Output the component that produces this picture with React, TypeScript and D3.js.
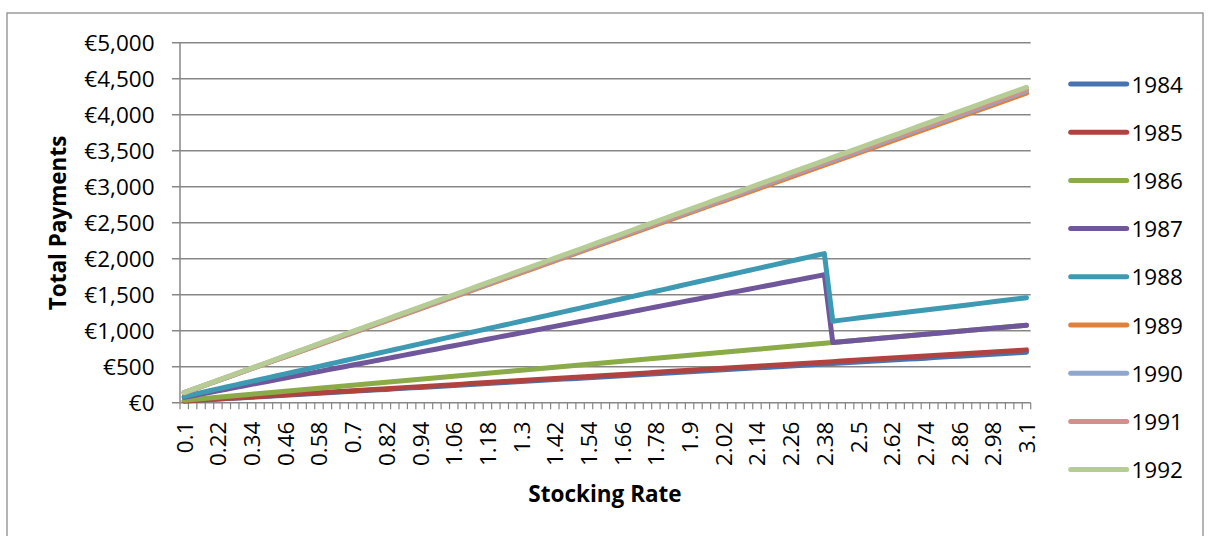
import React from "react";
import * as d3 from "d3";

const categories: string[] = [
  "0.1","0.13","0.16","0.19","0.22","0.25","0.28","0.31","0.34","0.37",
  "0.4","0.43","0.46","0.49","0.52","0.55","0.58","0.61","0.64","0.67",
  "0.7","0.73","0.76","0.79","0.82","0.85","0.88","0.91","0.94","0.97",
  "1","1.03","1.06","1.09","1.12","1.15","1.18","1.21","1.24","1.27",
  "1.3","1.33","1.36","1.39","1.42","1.45","1.48","1.51","1.54","1.57",
  "1.6","1.63","1.66","1.69","1.72","1.75","1.78","1.81","1.84","1.87",
  "1.9","1.93","1.96","1.99","2.02","2.05","2.08","2.11","2.14","2.17",
  "2.2","2.23","2.26","2.29","2.32","2.35","2.38","2.41","2.44","2.47",
  "2.5","2.53","2.56","2.59","2.62","2.65","2.68","2.71","2.74","2.77",
  "2.8","2.83","2.86","2.89","2.92","2.95","2.98","3.01","3.04","3.07",
  "3.1"
];

const seriesNames: string[] = ["1984","1985","1986","1987","1988","1989","1990","1991","1992"];
const seriesColors: string[] = ["#4774b0","#b04340","#8aab48","#70569a","#3e99b2","#e1803b","#8fa6cd","#d38f8e","#b5cc95"];

const yTicks: number[] = [0, 500, 1000, 1500, 2000, 2500, 3000, 3500, 4000, 4500, 5000];

const v1984: number[] = [
  23,29,36,43,50,57,63,70,77,84,90,97,104,111,118,124,131,138,145,151,
  158,165,172,179,185,192,199,206,212,219,226,233,240,246,253,260,267,273,280,287,
  294,301,307,314,321,328,334,341,348,355,362,368,375,382,389,396,402,409,416,423,
  429,436,443,450,457,463,470,477,484,490,497,504,511,518,524,531,538,545,551,558,
  565,572,579,585,592,599,606,612,619,626,633,640,646,653,660,667,673,680,687,694,
  701
];
const v1985: number[] = [
  23.7,30.8,37.9,45.0,52.1,59.2,66.3,73.4,80.5,87.6,94.7,101.8,108.9,116.0,123.1,130.2,137.3,144.4,151.5,158.6,
  165.7,172.8,179.9,187.0,194.1,201.2,208.3,215.4,222.5,229.6,236.7,243.8,250.9,258.0,265.1,272.2,279.3,286.4,293.5,300.6,
  307.7,314.8,321.9,329.0,336.1,343.2,350.3,357.4,364.5,371.6,378.7,385.8,392.9,400.0,407.1,414.2,421.3,428.4,435.5,442.6,
  449.7,456.8,463.9,471.0,478.1,485.2,492.3,499.4,506.5,513.6,520.7,527.8,534.9,542.0,549.1,556.2,563.3,570.4,577.5,584.6,
  591.7,598.8,605.9,613.0,620.1,627.2,634.3,641.4,648.5,655.6,662.7,669.8,676.9,684.0,691.1,698.2,705.3,712.4,719.5,726.6,
  733.7
];
const v1986: number[] = [
  34.7,45.1,55.5,65.9,76.3,86.7,97.1,107.5,117.9,128.3,138.7,149.1,159.5,169.9,180.3,190.7,201.1,211.5,221.9,232.3,
  242.7,253.1,263.5,273.9,284.3,294.7,305.1,315.5,325.9,336.3,346.7,357.1,367.5,377.9,388.3,398.7,409.1,419.5,429.9,440.3,
  450.7,461.1,471.5,481.9,492.3,502.7,513.1,523.5,533.9,544.3,554.7,565.1,575.5,585.9,596.3,606.7,617.1,627.5,637.9,648.3,
  658.7,669.1,679.5,689.9,700.3,710.7,721.1,731.5,741.9,752.3,762.7,773.1,783.5,793.9,804.3,814.7,825.1,835.5,845.9,856.3,
  866.7,877.1,887.5,897.9,908.3,918.7,929.1,939.5,949.9,960.3,970.7,981.1,991.5,1001.9,1012.3,1022.7,1033.1,1043.5,1053.9,1064.3,
  1074.7
];
const v1987: number[] = [
  74.7,97.1,119.5,141.9,164.3,186.7,209.1,231.5,253.9,276.3,298.7,321.1,343.5,365.9,388.3,410.7,433.1,455.5,477.9,500.3,
  522.7,545.1,567.5,589.9,612.3,634.7,657.1,679.5,701.9,724.3,746.7,769.1,791.5,813.9,836.3,858.7,881.1,903.5,925.9,948.3,
  970.7,993.1,1015.5,1037.9,1060.3,1082.7,1105.1,1127.5,1149.9,1172.3,1194.7,1217.1,1239.5,1261.9,1284.3,1306.7,1329.1,1351.5,1373.9,1396.3,
  1418.7,1441.1,1463.5,1485.9,1508.3,1530.7,1553.1,1575.5,1597.9,1620.3,1642.7,1665.1,1687.5,1709.9,1732.3,1754.7,1777.1,835.5,845.9,856.3,
  866.7,877.1,887.5,897.9,908.3,918.7,929.1,939.5,949.9,960.3,970.7,981.1,991.5,1001.9,1012.3,1022.7,1033.1,1043.5,1053.9,1064.3,
  1074.7
];
const v1988: number[] = [
  87.0,113.1,139.2,165.3,191.4,217.5,243.6,269.7,295.8,321.9,348.0,374.1,400.2,426.3,452.4,478.5,504.6,530.7,556.8,582.9,
  609.0,635.1,661.2,687.3,713.4,739.5,765.6,791.7,817.8,843.9,870.0,896.1,922.2,948.3,974.4,1000.5,1026.6,1052.7,1078.8,1104.9,
  1131.0,1157.1,1183.2,1209.3,1235.4,1261.5,1287.6,1313.7,1339.8,1365.9,1392.0,1418.1,1444.2,1470.3,1496.4,1522.5,1548.6,1574.7,1600.8,1626.9,
  1653.0,1679.1,1705.2,1731.3,1757.4,1783.5,1809.6,1835.7,1861.8,1887.9,1914.0,1940.1,1966.2,1992.3,2018.4,2044.5,2070.6,1132.7,1146.8,1160.9,
  1175.0,1189.1,1203.2,1217.3,1231.4,1245.5,1259.6,1273.7,1287.8,1301.9,1316.0,1330.1,1344.2,1358.3,1372.4,1386.5,1400.6,1414.7,1428.8,1442.9,
  1457.0
];
const v1989: number[] = [
  138.7,180.3,221.9,263.5,305.1,346.7,388.3,429.9,471.5,513.1,554.7,596.3,637.9,679.5,721.1,762.7,804.3,845.9,887.5,929.1,
  970.7,1012.3,1053.9,1095.5,1137.1,1178.7,1220.3,1261.9,1303.5,1345.1,1386.7,1428.3,1469.9,1511.5,1553.1,1594.7,1636.3,1677.9,1719.5,1761.1,
  1802.7,1844.3,1885.9,1927.5,1969.1,2010.7,2052.3,2093.9,2135.5,2177.1,2218.7,2260.3,2301.9,2343.5,2385.1,2426.7,2468.3,2509.9,2551.5,2593.1,
  2634.7,2676.3,2717.9,2759.5,2801.1,2842.7,2884.3,2925.9,2967.5,3009.1,3050.7,3092.3,3133.9,3175.5,3217.1,3258.7,3300.3,3341.9,3383.5,3425.1,
  3466.7,3508.3,3549.9,3591.5,3633.1,3674.7,3716.3,3757.9,3799.5,3841.1,3882.7,3924.3,3965.9,4007.5,4049.1,4090.7,4132.3,4173.9,4215.5,4257.1,
  4298.7
];
const v1990: number[] = [
  139.7,181.6,223.5,265.4,307.3,349.2,391.1,433.0,474.9,516.8,558.7,600.6,642.5,684.4,726.3,768.2,810.1,852.0,893.9,935.8,
  977.7,1019.6,1061.5,1103.4,1145.3,1187.2,1229.1,1271.0,1312.9,1354.8,1396.7,1438.6,1480.5,1522.4,1564.3,1606.2,1648.1,1690.0,1731.9,1773.8,
  1815.7,1857.6,1899.5,1941.4,1983.3,2025.2,2067.1,2109.0,2150.9,2192.8,2234.7,2276.6,2318.5,2360.4,2402.3,2444.2,2486.1,2528.0,2569.9,2611.8,
  2653.7,2695.6,2737.5,2779.4,2821.3,2863.2,2905.1,2947.0,2988.9,3030.8,3072.7,3114.6,3156.5,3198.4,3240.3,3282.2,3324.1,3366.0,3407.9,3449.8,
  3491.7,3533.6,3575.5,3617.4,3659.3,3701.2,3743.1,3785.0,3826.9,3868.8,3910.7,3952.6,3994.5,4036.4,4078.3,4120.2,4162.1,4204.0,4245.9,4287.8,
  4329.7
];
const v1991: number[] = [
  140.3,182.4,224.5,266.6,308.7,350.8,392.9,435.0,477.1,519.2,561.3,603.4,645.5,687.6,729.7,771.8,813.9,856.0,898.1,940.2,
  982.3,1024.4,1066.5,1108.6,1150.7,1192.8,1234.9,1277.0,1319.1,1361.2,1403.3,1445.4,1487.5,1529.6,1571.7,1613.8,1655.9,1698.0,1740.1,1782.2,
  1824.3,1866.4,1908.5,1950.6,1992.7,2034.8,2076.9,2119.0,2161.1,2203.2,2245.3,2287.4,2329.5,2371.6,2413.7,2455.8,2497.9,2540.0,2582.1,2624.2,
  2666.3,2708.4,2750.5,2792.6,2834.7,2876.8,2918.9,2961.0,3003.1,3045.2,3087.3,3129.4,3171.5,3213.6,3255.7,3297.8,3339.9,3382.0,3424.1,3466.2,
  3508.3,3550.4,3592.5,3634.6,3676.7,3718.8,3760.9,3803.0,3845.1,3887.2,3929.3,3971.4,4013.5,4055.6,4097.7,4139.8,4181.9,4224.0,4266.1,4308.2,
  4350.3
];
const v1992: number[] = [
  141.3,183.7,226.1,268.5,310.9,353.3,395.7,438.1,480.5,522.9,565.3,607.7,650.1,692.5,734.9,777.3,819.7,862.1,904.5,946.9,
  989.3,1031.7,1074.1,1116.5,1158.9,1201.3,1243.7,1286.1,1328.5,1370.9,1413.3,1455.7,1498.1,1540.5,1582.9,1625.3,1667.7,1710.1,1752.5,1794.9,
  1837.3,1879.7,1922.1,1964.5,2006.9,2049.3,2091.7,2134.1,2176.5,2218.9,2261.3,2303.7,2346.1,2388.5,2430.9,2473.3,2515.7,2558.1,2600.5,2642.9,
  2685.3,2727.7,2770.1,2812.5,2854.9,2897.3,2939.7,2982.1,3024.5,3066.9,3109.3,3151.7,3194.1,3236.5,3278.9,3321.3,3363.7,3406.1,3448.5,3490.9,
  3533.3,3575.7,3618.1,3660.5,3702.9,3745.3,3787.7,3830.1,3872.5,3914.9,3957.3,3999.7,4042.1,4084.5,4126.9,4169.3,4211.7,4254.1,4296.5,4338.9,
  4381.3
];

const seriesValues: number[][] = [v1984, v1985, v1986, v1987, v1988, v1989, v1990, v1991, v1992];

const W = 1209;
const H = 536;
const PLOT_L = 180;
const PLOT_R = 1030.7;
const PLOT_T = 42.7;
const PLOT_B = 402.7;
const FONT = "'Open Sans', 'Noto Sans', sans-serif";
const GRID = "#878787";

export default function App() {
  const x = d3.scaleBand<string>().domain(categories).range([PLOT_L, PLOT_R]).padding(0);
  const bw = x.bandwidth();
  const cx = (c: string) => (x(c) as number) + bw / 2;
  const y = d3.scaleLinear().domain([0, 5000]).range([PLOT_B, PLOT_T]);
  const fmt = (v: number) => "€" + d3.format(",")(v);

  const line = d3
    .line<number>()
    .x((_, i) => cx(categories[i]))
    .y((d) => y(d));

  const tickXs: number[] = categories.map((c) => x(c) as number).concat([PLOT_R]);
  const labelCats = categories.filter((_, i) => i % 4 === 0);

  const legendX0 = 1070.7;
  const legendX1 = 1126.7;
  const legendY0 = 84;
  const legendStep = 48.2;

  return (
    <svg
      width={W}
      height={H}
      style={{ position: "absolute", left: 0, top: 0, background: "#fff" }}
      fontFamily={FONT}
    >
      <rect x={7} y={13} width={1196} height={600} fill="#fff" stroke="#8c8c8c" strokeWidth={1.3} />

      {/* gridlines */}
      {yTicks.map((t) => (
        <line key={"g" + t} x1={PLOT_L - 8} x2={PLOT_R} y1={y(t)} y2={y(t)} stroke={GRID} strokeWidth={1.5} />
      ))}
      {/* y axis */}
      <line x1={PLOT_L} x2={PLOT_L} y1={PLOT_T} y2={PLOT_B} stroke={GRID} strokeWidth={1.5} />
      {yTicks.map((t) => (
        <text key={"yl" + t} x={154.5} y={y(t)} textAnchor="end" dominantBaseline="central" fontSize={22.5} fill="#000">
          {fmt(t)}
        </text>
      ))}
      {/* x axis ticks */}
      {tickXs.map((tx, i) => (
        <line key={"xt" + i} x1={tx} x2={tx} y1={PLOT_B} y2={PLOT_B + 6.5} stroke={GRID} strokeWidth={1.2} />
      ))}
      {labelCats.map((c) => (
        <text
          key={"xl" + c}
          transform={`translate(${cx(c)},421.5) rotate(-90)`}
          textAnchor="end"
          dominantBaseline="central"
          fontSize={22.5}
          fill="#000"
        >
          {c}
        </text>
      ))}

      {/* series */}
      {seriesValues.map((vals, si) => (
        <path
          key={"s" + si}
          d={line(vals) || ""}
          fill="none"
          stroke={seriesColors[si]}
          strokeWidth={5}
          strokeLinejoin="round"
          strokeLinecap="round"
        />
      ))}

      {/* axis titles */}
      <text x={605} y={493} textAnchor="middle" dominantBaseline="central" fontSize={22.5} fontWeight="bold" fill="#000">
        Stocking Rate
      </text>
      <text
        transform="translate(57.5,223) rotate(-90)"
        textAnchor="middle"
        dominantBaseline="central"
        fontSize={22.5}
        fontWeight="bold"
        fill="#000"
      >
        Total Payments
      </text>

      {/* legend */}
      {seriesNames.map((n, i) => {
        const ly = legendY0 + i * legendStep;
        return (
          <g key={"lg" + n}>
            <line x1={legendX0} x2={legendX1} y1={ly} y2={ly} stroke={seriesColors[i]} strokeWidth={5} strokeLinecap="round" />
            <text x={1131.5} y={ly} dominantBaseline="central" fontSize={22.5} fill="#000">
              {n}
            </text>
          </g>
        );
      })}
    </svg>
  );
}
